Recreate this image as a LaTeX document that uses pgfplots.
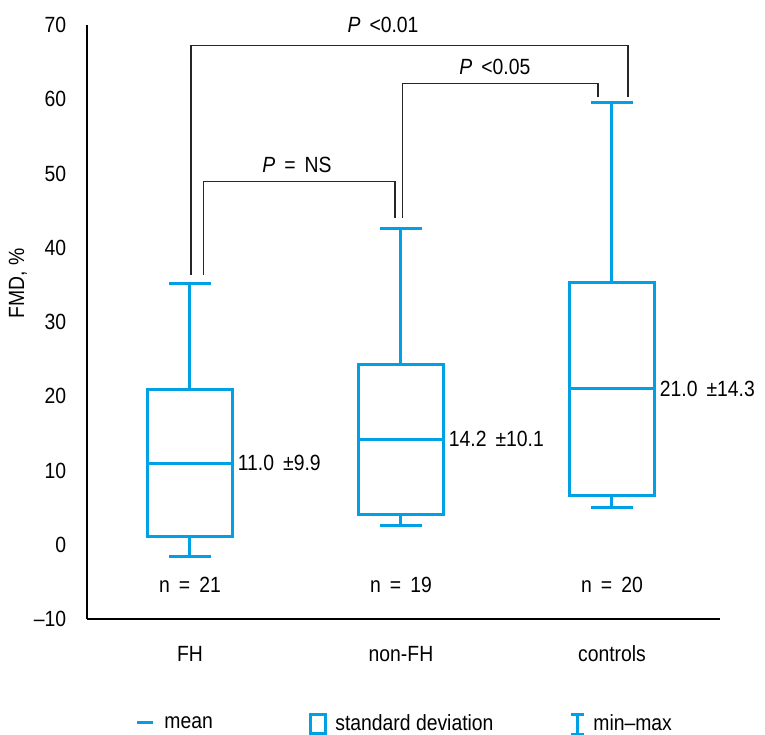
\documentclass[border=0pt]{standalone}
\usepackage{fontspec}
\setmainfont{Liberation Sans}[FakeStretch=0.88]
\usepackage{pgfplots}
\pgfplotsset{compat=1.18}
\usepgfplotslibrary{statistics}
\definecolor{cblue}{RGB}{0,160,228}
\begin{document}
\fontsize{11}{13.2}\selectfont
\begin{tikzpicture}
\begin{axis}[
 scale only axis, width=316.5pt, height=297pt,
 xmin=0.512, xmax=3.512, ymin=-10, ymax=70,
 axis x line=bottom, axis y line=left,
 axis line style={-, line width=0.8pt, black},
 ytick={-10,0,10,20,30,40,50,60,70},
 yticklabels={–10,0,10,20,30,40,50,60,70},
 xtick={1,2,3}, xticklabels={FH,non-FH,controls},
 major tick length=0pt,
 yticklabel style={xshift=-6.5pt},
 xticklabel style={yshift=-8pt, text height=1.6ex, text depth=0.3ex},
 clip=false,
 boxplot/draw direction=y,
 boxplot/box extend=0.40,
 boxplot/whisker extend=0.195,
]
\coordinate (ll) at (rel axis cs:0,0);
% boxes: mean +/- SD, min-max whiskers
\addplot[draw=cblue, line width=1.5pt, solid, boxplot prepared={draw position=1,
  lower whisker=-1.6, lower quartile=1.1, median=11.0, upper quartile=20.9, upper whisker=35.2}]
  coordinates {};
\addplot[draw=cblue, line width=1.5pt, solid, boxplot prepared={draw position=2,
  lower whisker=2.6, lower quartile=4.1, median=14.2, upper quartile=24.3, upper whisker=42.6}]
  coordinates {};
\addplot[draw=cblue, line width=1.5pt, solid, boxplot prepared={draw position=3,
  lower whisker=5.0, lower quartile=6.7, median=21.0, upper quartile=35.3, upper whisker=59.5}]
  coordinates {};
% mean +/- SD labels
\node[anchor=west, inner sep=0pt] at (axis cs:1.225,11.0) {11.0 \,±9.9};
\node[anchor=west, inner sep=0pt] at (axis cs:2.225,14.2) {14.2 \,±10.1};
\node[anchor=west, inner sep=0pt] at (axis cs:3.225,21.0) {21.0 \,±14.3};
% n labels
\node at (axis cs:1,-5.4) {n \,=\, 21};
\node at (axis cs:2,-5.4) {n \,=\, 19};
\node at (axis cs:3,-5.4) {n \,=\, 20};
% significance brackets
\draw[line width=0.6pt, black!85] (axis cs:1.005,36.3) -- (axis cs:1.005,67.2) -- (axis cs:3.076,67.2) -- (axis cs:3.076,60.3);
\draw[line width=0.6pt, black!85] (axis cs:1.066,36.3) -- (axis cs:1.066,48.9) -- (axis cs:1.972,48.9) -- (axis cs:1.972,44.0);
\draw[line width=0.6pt, black!85] (axis cs:2.009,44.0) -- (axis cs:2.009,62.1) -- (axis cs:2.934,62.1) -- (axis cs:2.934,60.3);
\node[anchor=base, inner sep=0pt] at (axis cs:1.915,69.0) {\textit{P}\, <0.01};
\node[anchor=base, inner sep=0pt] at (axis cs:2.445,63.3) {\textit{P}\, <0.05};
\node[anchor=base, inner sep=0pt] at (axis cs:1.507,50.1) {\textit{P} \,=\, NS};
% y label
\node[rotate=90] at (axis cs:0.185,35.2) {FMD, \%};
% legend
\draw[cblue, line width=1.5pt] (axis cs:0.749,-24.0) -- (axis cs:0.825,-24.0);
\node[anchor=west, inner sep=0pt] at (axis cs:0.877,-24.0) {mean};
\draw[cblue, line width=1.5pt] (axis cs:1.569,-22.9) rectangle (axis cs:1.640,-25.4);
\node[anchor=west, inner sep=0pt] at (axis cs:1.687,-24.0) {standard deviation};
\draw[cblue, line width=1.5pt] (axis cs:2.806,-22.8) -- (axis cs:2.867,-22.8)
  (axis cs:2.836,-22.8) -- (axis cs:2.836,-25.5)
  (axis cs:2.806,-25.5) -- (axis cs:2.867,-25.5);
\node[anchor=west, inner sep=0pt] at (axis cs:2.910,-24.0) {min–max};
\end{axis}
\pgfresetboundingbox
\path ([shift={(-43.5pt,-57.5pt)}]ll) rectangle ++(382.5pt,367pt);
\end{tikzpicture}
\end{document}
